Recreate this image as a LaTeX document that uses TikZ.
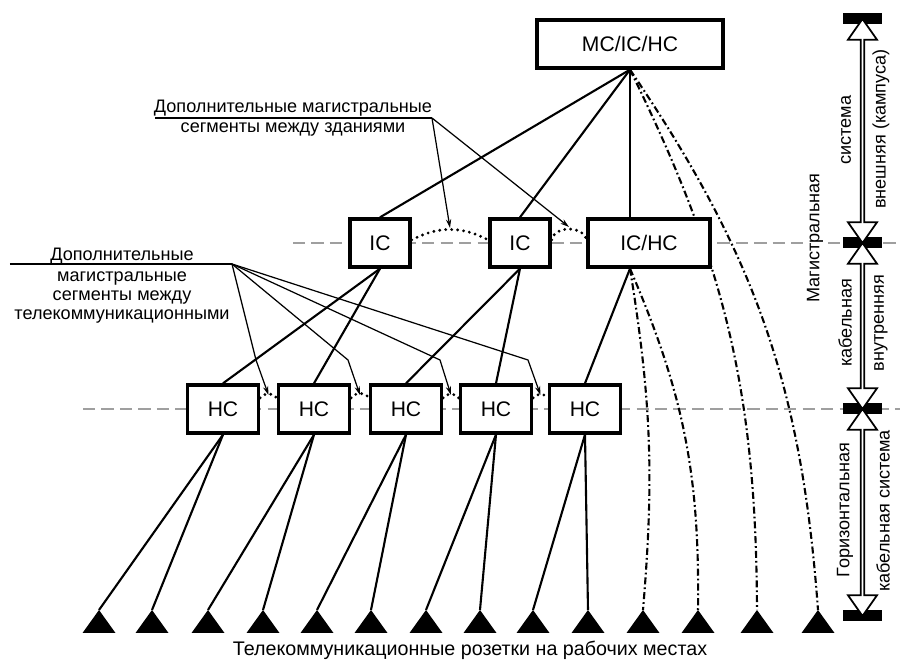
\documentclass[tikz,border=0pt]{standalone}
\usepackage{fontspec}
\setmainfont{Liberation Sans}
\usetikzlibrary{arrows.meta,calc,shapes.arrows,backgrounds}

\begin{document}
\begin{tikzpicture}[
  font=\fontsize{10.3pt}{10.6pt}\selectfont,
  box/.style={draw,fill=white,line width=1.9pt,minimum height=0.96cm,font=\fontsize{12pt}{14pt}\selectfont},
  cable/.style={line width=1.2pt},
  dashdot/.style={line width=1.2pt,dash pattern=on 4pt off 1.7pt on 1pt off 1.7pt},
  level/.style={gray!75,line width=1.2pt,dash pattern=on 7pt off 3.5pt},
  link/.style={line width=1.8pt,line cap=round,dash pattern=on 0pt off 3.4pt},
  leader/.style={line width=0.7pt,-{Stealth[length=5pt,width=3pt]}},
  bar/.style={fill=black,minimum width=0.78cm,minimum height=0.22cm,inner sep=0pt},
  span/.style={double arrow,draw,fill=white,line width=1pt,minimum width=0.58cm,double arrow head extend=0.13cm,double arrow tip angle=70,inner sep=0pt,rotate=90}
]

\useasboundingbox (0,0) rectangle (18,13.22);

\node (mc) at (12.6,12.34) [box,minimum width=3.72cm] {MC/IC/HC};
\node (ic1) at (7.6,8.36) [box,minimum width=1.2cm] {IC};
\node (ic2) at (10.4,8.36) [box,minimum width=1.2cm] {IC};
\node (ichc) at (12.98,8.36) [box,minimum width=2.44cm] {IC/HC};
\node (hc1) at (4.46,5.04) [box,minimum width=1.42cm] {HC};
\node (hc2) at (6.28,5.04) [box,minimum width=1.42cm] {HC};
\node (hc3) at (8.12,5.04) [box,minimum width=1.42cm] {HC};
\node (hc4) at (9.92,5.04) [box,minimum width=1.42cm] {HC};
\node (hc5) at (11.7,5.04) [box,minimum width=1.42cm] {HC};

\foreach \x [count=\i] in {1.98,3.04,4.16,5.26,6.34,7.42,8.52,9.6,10.66,11.76,12.86,13.96,15.14,16.36}
  \coordinate (o\i) at (\x,1.02);
\foreach \i in {1,...,14}
  \fill (o\i) -- ++(-0.33,-0.46) -- ++(0.66,0) -- cycle;

\begin{scope}[on background layer]
\draw [level] (5.86,8.36) -- (18,8.36);
\draw [level] (1.66,5.04) -- (18,5.04);

\draw [cable] (mc.south) -- (ic1.north);
\draw [cable] (mc.south) -- (ic2.north);
\draw [cable] (mc.south) -- (mc.south |- ichc.north);
\draw [cable] (ic1.south) -- (hc1.north);
\draw [cable] (ic1.south) -- (hc2.north);
\draw [cable] (ic2.south) -- (hc3.north);
\draw [cable] (ic2.south) -- (hc4.north);
\draw [cable] (mc.south |- ichc.south) -- (hc5.north);

\draw [dashdot] (mc.south) to [bend left=13] (o13);
\draw [dashdot] (mc.south) to [bend left=15] (o14);
\draw [dashdot] (mc.south |- ichc.south) to [bend left=7] (o11);
\draw [dashdot] (mc.south |- ichc.south) to [bend left=12] (o12);
\end{scope}

\draw [cable] (hc1.south) -- (o1);
\draw [cable] (hc1.south) -- (o2);
\draw [cable] (hc2.south) -- (o3);
\draw [cable] (hc2.south) -- (o4);
\draw [cable] (hc3.south) -- (o5);
\draw [cable] (hc3.south) -- (o6);
\draw [cable] (hc4.south) -- (o7);
\draw [cable] (hc4.south) -- (o8);
\draw [cable] (hc5.south) -- (o9);
\draw [cable] (hc5.south) -- (o10);

\draw [link] ([yshift=0.06cm]ic1.east) to [bend left=28] ([yshift=0.06cm]ic2.west);
\draw [link] ([yshift=0.06cm]ic2.east) to [bend left=80,looseness=1.1] ([yshift=0.06cm]ichc.west);
\draw [link] ([yshift=0.22cm]hc1.east) to [bend left=60] ([yshift=0.22cm]hc2.west);
\draw [link] ([yshift=0.22cm]hc2.east) to [bend left=60] ([yshift=0.22cm]hc3.west);
\draw [link] ([yshift=0.22cm]hc3.east) to [bend left=60] ([yshift=0.22cm]hc4.west);
\draw [link] ([yshift=0.22cm]hc4.east) to [bend left=60] ([yshift=0.22cm]hc5.west);

\node (uppertitle) at (5.86,11.06) {Дополнительные магистральные};
\node (uppertext) at (5.86,10.62) {сегменты между зданиями};
\coordinate (upperend) at (8.64,10.86);
\draw [line width=0.7pt] (3.1,10.86) -- (upperend);
\draw [leader] (upperend) -- ([yshift=0.3cm]$(ic1.east)!.5!(ic2.west)$);
\draw [leader] (upperend) -- ([yshift=0.32cm]$(ic2.east)!.5!(ichc.west)$);

\node (lowertitle) at (2.44,8.1) {Дополнительные};
\node (lowertext) at (2.44,7.9) [anchor=north,align=center] {магистральные\\сегменты между\\телекоммуникационными};
\coordinate (lowerend) at (4.64,7.94);
\draw [line width=0.7pt] (0.2,7.94) -- (lowerend);
\draw [leader] (lowerend) -- (5.12,6.02) -- ([yshift=0.28cm]$(hc1.east)!.5!(hc2.west)$);
\draw [leader] (lowerend) -- (6.96,6.02) -- ([yshift=0.28cm]$(hc2.east)!.5!(hc3.west)$);
\draw [leader] (lowerend) -- (8.8,6.02) -- ([yshift=0.28cm]$(hc3.east)!.5!(hc4.west)$);
\draw [leader] (lowerend) -- (10.56,6.02) -- ([yshift=0.28cm]$(hc4.east)!.5!(hc5.west)$);

\node (outlets) at (9.4,0.22) [font=\fontsize{11.2pt}{13pt}\selectfont] {Телекоммуникационные розетки на рабочих местах};

\node (bartop) at (17.25,12.84) [bar] {};
\node (barup) at (17.25,8.36) [bar] {};
\node (barlow) at (17.25,5.04) [bar] {};
\node (barbot) at (17.25,0.9) [bar] {};

\node (spanext) at ($(bartop)!.5!(barup)$) [span,minimum height=4.48cm] {};
\node (spanint) at ($(barup)!.5!(barlow)$) [span,minimum height=3.32cm] {};
\node (spanhor) at ($(barlow)!.5!(barbot)$) [span,minimum height=4.14cm] {};

\node (backbone) at (16.3,8.46) [rotate=90,fill=white,inner sep=1pt] {Магистральная};
\node (extleft) at (16.92,10.62) [rotate=90] {система};
\node (extright) at (17.62,10.64) [rotate=90] {внешняя (кампуса)};
\node (intleft) at (16.9,6.76) [rotate=90] {кабельная};
\node (intright) at (17.62,6.76) [rotate=90] {внутренняя};
\node (horleft) at (16.9,3.02) [rotate=90] {Горизонтальная};
\node (horright) at (17.66,3.0) [rotate=90] {кабельная система};

\end{tikzpicture}
\end{document}
